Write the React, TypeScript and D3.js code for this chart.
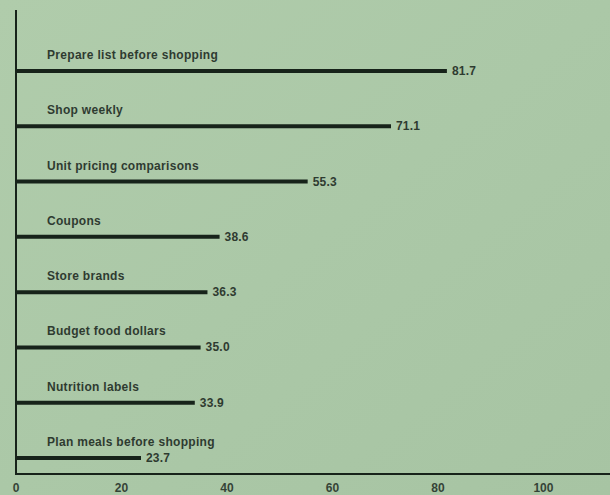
import React from "react";
import * as d3 from "d3";

const categories = [
  "Prepare list before shopping",
  "Shop weekly",
  "Unit pricing comparisons",
  "Coupons",
  "Store brands",
  "Budget food dollars",
  "Nutrition labels",
  "Plan meals before shopping",
];
const values = [81.7, 71.1, 55.3, 38.6, 36.3, 35.0, 33.9, 23.7];
const tickValues = [0, 20, 40, 60, 80, 100];

const W = 610;
const H = 495;
const ink = "#17231a";
const font = "'Liberation Sans', Arial, Helvetica, sans-serif";

export default function App() {
  const x = d3.scaleLinear().domain([0, 113]).range([16, 612]);
  const y = d3.scalePoint<string>().domain(categories).range([71, 458]);

  return (
    <svg
      width={W}
      height={H}
      style={{ position: "absolute", left: 0, top: 0, display: "block" }}
      fontFamily={font}
    >
      <defs>
        <linearGradient id="paper" x1="0" y1="0" x2="1" y2="1">
          <stop offset="0" stopColor="#b0ccab" />
          <stop offset="0.5" stopColor="#abc8a7" />
          <stop offset="1" stopColor="#a7c4a3" />
        </linearGradient>
      </defs>
      <rect width={W} height={H} fill="url(#paper)" />

      {categories.map((c, i) => {
        const yy = y(c)!;
        return (
          <g key={c}>
            <text
              x={47}
              y={yy - 12}
              fontSize={12}
              fontWeight={700}
              letterSpacing={0.3}
              fill={ink}
              opacity={0.85}
            >
              {c}
            </text>
            <line
              x1={x(0)}
              x2={x(values[i])}
              y1={yy}
              y2={yy}
              stroke={ink}
              strokeWidth={4}
            />
            <text
              x={x(values[i]) + 5}
              y={yy + 4}
              fontSize={12}
              fontWeight={700}
              letterSpacing={0.2}
              fill={ink}
              opacity={0.85}
            >
              {values[i].toFixed(1)}
            </text>
          </g>
        );
      })}

      {/* axes */}
      <line x1={x(0)} x2={x(0)} y1={10} y2={475} stroke={ink} strokeWidth={2} />
      <line x1={x(0) - 1} x2={W} y1={474} y2={474} stroke={ink} strokeWidth={2} />

      {tickValues.map((t) => (
        <text
          key={t}
          x={x(t)}
          y={492}
          fontSize={12}
          fontWeight={700}
          textAnchor="middle"
          fill={ink}
          opacity={0.8}
        >
          {t}
        </text>
      ))}
    </svg>
  );
}
